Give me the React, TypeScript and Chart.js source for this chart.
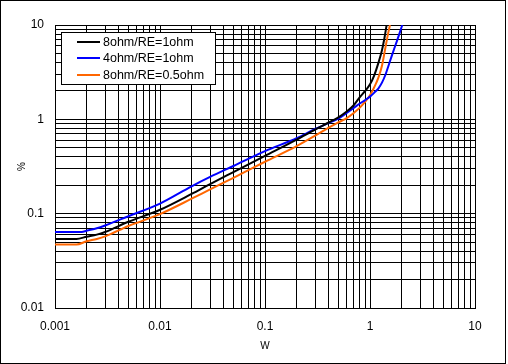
import React, { useEffect, useRef } from 'react';
import { Chart, registerables } from 'chart.js';

Chart.register(...registerables);

// ---- data ----
const seriesLabels = ['8ohm/RE=1ohm', '4ohm/RE=1ohm', '8ohm/RE=0.5ohm'];
const seriesColors = ['#000000', '#0000ff', '#ff6600'];

// 8ohm / RE=1ohm
const powerA = [0.001, 0.0016, 0.002, 0.0025, 0.003, 0.005, 0.01, 0.02, 0.03, 0.05, 0.1, 0.2, 0.3, 0.4, 0.5, 0.6, 0.7, 0.8, 0.9, 1.0, 1.1, 1.2, 1.3, 1.37, 1.44];
const distA = [0.054, 0.054, 0.057, 0.06, 0.064, 0.082, 0.11, 0.162, 0.206, 0.276, 0.41, 0.61, 0.78, 0.92, 1.05, 1.21, 1.41, 1.72, 2.0, 2.35, 2.95, 3.94, 5.4, 7.2, 10];

// 4ohm / RE=1ohm
const powerB = [0.001, 0.0018, 0.002, 0.0025, 0.003, 0.005, 0.01, 0.02, 0.03, 0.05, 0.1, 0.2, 0.3, 0.4, 0.5, 0.6, 0.7, 0.8, 0.9, 1.0, 1.1, 1.2, 1.3, 1.4, 1.5, 1.6, 1.7, 1.8, 1.9, 2.03];
const distB = [0.064, 0.064, 0.066, 0.07, 0.075, 0.094, 0.128, 0.195, 0.245, 0.32, 0.46, 0.63, 0.79, 0.91, 1.02, 1.17, 1.32, 1.47, 1.6, 1.74, 1.92, 2.12, 2.45, 2.95, 3.7, 4.6, 5.6, 6.7, 8.0, 10];

// 8ohm / RE=0.5ohm
const powerC = [0.001, 0.0016, 0.002, 0.0025, 0.003, 0.005, 0.01, 0.02, 0.03, 0.05, 0.1, 0.2, 0.3, 0.4, 0.5, 0.6, 0.7, 0.8, 0.9, 1.0, 1.1, 1.2, 1.3, 1.39, 1.49, 1.55];
const distC = [0.047, 0.047, 0.051, 0.054, 0.0575, 0.074, 0.099, 0.144, 0.181, 0.24, 0.355, 0.52, 0.67, 0.81, 0.93, 1.03, 1.17, 1.33, 1.54, 1.8, 2.2, 2.75, 3.7, 5.45, 8.2, 10];

const xTickLabels = ['0.001', '0.01', '0.1', '1', '10'];
const yTickLabels = ['0.01', '0.1', '1', '10'];
const xTitle = 'W';
const yTitle = '%';

const FONT = "'Liberation Sans', Arial, sans-serif";

function decadeTicks(minExp: number, maxExp: number) {
  const out: { value: number }[] = [];
  for (let e = minExp; e < maxExp; e++) {
    for (let m = 1; m < 10; m++) {
      out.push({ value: Number((m * Math.pow(10, e)).toPrecision(6)) });
    }
  }
  out.push({ value: Math.pow(10, maxExp) });
  return out;
}

function majorLabel(v: number, labels: string[], minExp: number) {
  const lg = Math.log10(v);
  const r = Math.round(lg);
  if (Math.abs(lg - r) < 1e-6) return labels[r - minExp] ?? '';
  return '';
}

const boxLegend = {
  id: 'boxLegend',
  afterDraw(chart: any) {
    const { ctx, chartArea } = chart;
    const x0 = chartArea.left + 6;
    const y0 = chartArea.top + 7;
    const w = 154;
    const h = 52;
    ctx.save();
    ctx.fillStyle = '#ffffff';
    ctx.fillRect(x0, y0, w, h);
    ctx.strokeStyle = '#000000';
    ctx.lineWidth = 1;
    ctx.strokeRect(x0 + 0.5, y0 + 0.5, w, h);
    chart.data.datasets.forEach((ds: any, i: number) => {
      const y = y0 + 10 + i * 16.3;
      ctx.strokeStyle = ds.borderColor;
      ctx.lineWidth = 2;
      ctx.beginPath();
      ctx.moveTo(x0 + 16, Math.round(y));
      ctx.lineTo(x0 + 39, Math.round(y));
      ctx.stroke();
      ctx.fillStyle = '#000000';
      ctx.font = `12.5px ${FONT}`;
      ctx.textAlign = 'left';
      ctx.textBaseline = 'middle';
      ctx.fillText(ds.label, x0 + 42, y + 0.5);
    });
    ctx.restore();
  },
};

export default function App() {
  const canvasRef = useRef<HTMLCanvasElement | null>(null);

  useEffect(() => {
    document.body.style.margin = '0';
    const canvas = canvasRef.current;
    if (!canvas) return;
    const pairs = [
      [powerA, distA],
      [powerB, distB],
      [powerC, distC],
    ];
    const chart = new Chart(canvas, {
      type: 'scatter',
      data: {
        datasets: pairs.map(([xs, ys], i) => ({
          label: seriesLabels[i],
          data: xs.map((x, j) => ({ x, y: ys[j] })),
          borderColor: seriesColors[i],
          backgroundColor: seriesColors[i],
          borderWidth: 2,
          showLine: true,
          pointRadius: 0,
          pointHoverRadius: 0,
          cubicInterpolationMode: 'monotone' as const,
          fill: false,
        })),
      },
      options: {
        animation: false,
        responsive: false,
        devicePixelRatio: 1,
        events: [],
        layout: { padding: { left: 0, top: 25, right: 33, bottom: 0 } },
        plugins: {
          legend: { display: false },
          tooltip: { enabled: false },
        },
        scales: {
          x: {
            type: 'logarithmic',
            min: 0.001,
            max: 10,
            afterBuildTicks: (scale: any) => {
              scale.ticks = decadeTicks(-3, 1);
            },
            afterFit: (scale: any) => {
              scale.height = 56;
            },
            grid: { color: '#000000', lineWidth: 1, drawTicks: false },
            border: { display: true, color: '#000000', width: 1 },
            ticks: {
              autoSkip: false,
              maxRotation: 0,
              padding: 11,
              color: '#000000',
              font: { family: FONT, size: 12 },
              callback: (v: any) => majorLabel(Number(v), xTickLabels, -3),
            },
            title: {
              display: true,
              text: xTitle,
              color: '#000000',
              font: { family: FONT, size: 10 },
              padding: { top: 0, bottom: 11.5 },
            },
          },
          y: {
            type: 'logarithmic',
            min: 0.01,
            max: 10,
            afterBuildTicks: (scale: any) => {
              scale.ticks = decadeTicks(-2, 1);
            },
            afterFit: (scale: any) => {
              scale.width = 55;
            },
            grid: { color: '#000000', lineWidth: 1, drawTicks: false },
            border: { display: true, color: '#000000', width: 1 },
            ticks: {
              autoSkip: false,
              padding: 11,
              color: '#000000',
              font: { family: FONT, size: 12 },
              callback: (v: any) => majorLabel(Number(v), yTickLabels, -2),
            },
            title: {
              display: true,
              text: yTitle,
              color: '#000000',
              font: { family: FONT, size: 10 },
              padding: { top: 16.5, bottom: 0 },
            },
          },
        },
      },
      plugins: [boxLegend],
    });
    return () => chart.destroy();
  }, []);

  return (
    <div style={{ position: 'relative', width: 508, height: 364, background: '#ffffff' }}>
      <canvas ref={canvasRef} width={508} height={364} style={{ display: 'block' }} />
      <div
        style={{
          position: 'absolute',
          left: 0,
          top: 0,
          width: 506,
          height: 364,
          border: '1px solid #000000',
          boxSizing: 'border-box',
          pointerEvents: 'none',
        }}
      />
    </div>
  );
}
